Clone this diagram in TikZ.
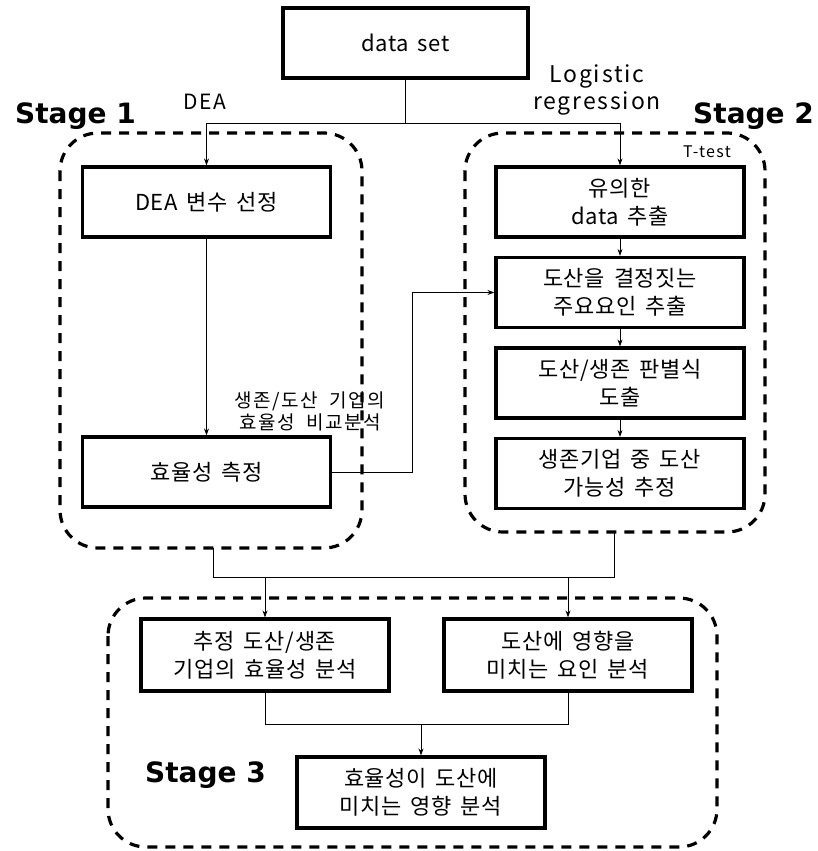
\documentclass[tikz,border=0pt]{standalone}
\usepackage{fontspec}
\setmainfont{Noto Sans CJK KR}
\newfontfamily\labfont{Noto Sans CJK KR}[LetterSpace=8, WordSpace=2]
\newfontfamily\boxfont{Noto Sans CJK KR}[LetterSpace=3, WordSpace=1.6]
\newfontfamily\stagefont{DejaVu Sans}
\usetikzlibrary{arrows.meta}
\tikzset{
  procbox/.style={draw, line width=3.2pt, minimum width=248pt, minimum height=70pt, align=center,
    font=\boxfont\fontsize{22}{28}\selectfont, inner sep=0pt},
  stagebox/.style={draw, line width=3.2pt, dash pattern=on 10pt off 8pt, rounded corners=38pt},
  conn/.style={line width=0.8pt},
  arr/.style={conn, -{Stealth[length=7pt,width=5pt]}},
  stagelabel/.style={font=\stagefont\bfseries\fontsize{28}{32}\selectfont, inner sep=0pt, anchor=base west},
  lbl/.style={align=center, inner sep=0pt}
}
\begin{document}
\begin{tikzpicture}[x=1pt,y=-1pt]
\useasboundingbox[fill=white] (0,0) rectangle (818,851);
% stage containers
\draw[stagebox] (60,133) rectangle (362,548);
\draw[stagebox] (465,133) rectangle (765,532);
\draw[stagebox] (108,598) rectangle (717,847);
\coordinate (s1b) at (213,548);
\coordinate (s2b) at (614,532);
% boxes
\node[procbox, minimum width=245pt] (data) at (405.5,43) {data set};
\node[procbox] (dea) at (206.5,202) {DEA 변수 선정};
\node[procbox] (eff) at (206.5,472) {효율성 측정};
\node[procbox] (sig) at (620,202) {유의한\\data 추출};
\node[procbox] (det) at (620,292.5) {도산을 결정짓는\\주요요인 추출};
\node[procbox] (disc) at (620,383) {도산/생존 판별식\\도출};
\node[procbox] (prob) at (620,473.5) {생존기업 중 도산\\가능성 추정};
\node[procbox, minimum height=72pt] (a3) at (265,655) {추정 도산/생존\\기업의 효율성 분석};
\node[procbox, minimum height=72pt] (b3) at (568,655) {도산에 영향을\\미치는 요인 분석};
\node[procbox, minimum height=71pt] (c3) at (421,792.5) {효율성이 도산에\\미치는 영향 분석};
% labels
\node[lbl, font=\labfont\fontsize{21}{24}\selectfont] (lDEA) at (205,102) {DEA};
\node[lbl, font=\labfont\fontsize{23}{27}\selectfont] (lLog) at (597,90) {Logistic\\regression};
\node[stagelabel] (st1) at (15,123) {Stage 1};
\node[stagelabel] (st2) at (693,123) {Stage 2};
\node[stagelabel] (st3) at (145,782) {Stage 3};
\node[lbl, font=\labfont\fontsize{16}{18}\selectfont] (ttest) at (707,152) {T-test};
\node[lbl, font=\labfont\fontsize{19}{22}\selectfont] (cmp) at (310,411) {생존/도산 기업의\\효율성 비교분석};
% connectors
\coordinate (split) at (data.south |- 0,123);
\draw[conn] (data.south) -- (split);
\draw[arr] (split) -| (dea.north);
\draw[arr] (split) -| (sig.north);
\draw[arr] (dea.south) -- (eff.north);
\draw[arr] (sig.south) -- (det.north);
\draw[arr] (det.south) -- (disc.north);
\draw[arr] (disc.south) -- (prob.north);
\coordinate (mid) at (412,0);
\draw[arr] (eff.east) -| (mid |- det.west) -- (det.west);
\coordinate (join) at (0,577);
\draw[conn] (s1b) -- (s1b |- join) -- (s2b |- join) -- (s2b);
\draw[arr] (a3.north |- join) -- (a3.north);
\draw[arr] (b3.north |- join) -- (b3.north);
\coordinate (join3) at (0,724);
\draw[conn] (a3.south) -- (a3.south |- join3) -- (b3.south |- join3) -- (b3.south);
\draw[arr] (c3.north |- join3) -- (c3.north);
\end{tikzpicture}
\end{document}
